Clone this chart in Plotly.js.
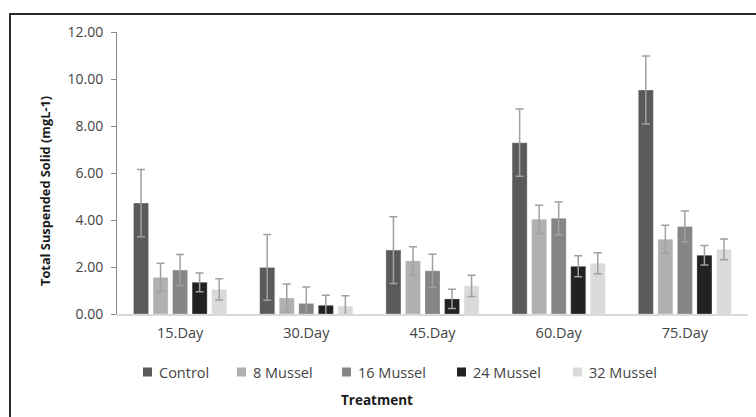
<!DOCTYPE html>
<html>
<head>
<meta charset="utf-8">
<script src="https://cdn.plot.ly/plotly-3.0.1.min.js"></script>
<style>html,body{margin:0;padding:0;background:#fff;}#chart{width:756px;height:417px;}</style>
</head>
<body>
<div id="chart"></div>
<script>
var categories = ["15.Day", "30.Day", "45.Day", "60.Day", "75.Day"];
var seriesNames = ["Control", "8 Mussel", "16 Mussel", "24 Mussel", "32 Mussel"];
var control = [4.72, 1.98, 2.72, 7.29, 9.53];
var controlErr = [1.43, 1.40, 1.42, 1.43, 1.45];
var mussel8 = [1.56, 0.68, 2.26, 4.03, 3.18];
var mussel8Err = [0.60, 0.60, 0.60, 0.60, 0.60];
var mussel16 = [1.87, 0.45, 1.84, 4.07, 3.72];
var mussel16Err = [0.66, 0.70, 0.70, 0.70, 0.66];
var mussel24 = [1.35, 0.37, 0.64, 2.03, 2.50];
var mussel24Err = [0.40, 0.43, 0.41, 0.45, 0.41];
var mussel32 = [1.05, 0.33, 1.20, 2.16, 2.75];
var mussel32Err = [0.45, 0.45, 0.45, 0.45, 0.44];
var yTicks = [0, 2, 4, 6, 8, 10, 12];
var yTickLabels = ["0.00", "2.00", "4.00", "6.00", "8.00", "10.00", "12.00"];

var values = [control, mussel8, mussel16, mussel24, mussel32];
var errors = [controlErr, mussel8Err, mussel16Err, mussel24Err, mussel32Err];
var colors = ["#5a5a5a", "#b0b0b0", "#858585", "#222222", "#dadada"];

var W = 756, H = 417;
var M = { l: 117, r: 8, t: 32, b: 103 };
var plotW = W - M.l - M.r, plotH = H - M.t - M.b;
function px(x) { return (x - M.l) / plotW; }
function py(y) { return (H - M.b - y) / plotH; }

var traces = seriesNames.map(function (name, i) {
  return {
    type: "bar",
    name: name,
    x: categories,
    y: values[i],
    showlegend: false,
    marker: { color: colors[i], line: { color: "rgba(255,255,255,0.35)", width: 0.8 } },
    error_y: { type: "data", array: errors[i], visible: true, color: "#a0a0a0", thickness: 1.5, width: 4 }
  };
});

var font = "'Open Sans', 'Liberation Sans', sans-serif";

// manual legend (Excel style small squares)
var legendX = [143, 237, 342, 457, 573];
var legendY = 372;
var shapes = [{
  type: "rect", xref: "paper", yref: "paper",
  x0: px(10), x1: 1.1, y0: -0.6, y1: py(14),
  line: { color: "#2a2a2a", width: 2 }, fillcolor: "rgba(0,0,0,0)"
}];
var annotations = [];
seriesNames.forEach(function (name, i) {
  shapes.push({
    type: "rect", xref: "paper", yref: "paper",
    x0: px(legendX[i]), x1: px(legendX[i] + 9),
    y0: py(legendY + 4.5), y1: py(legendY - 4.5),
    line: { width: 0 }, fillcolor: colors[i]
  });
  annotations.push({
    xref: "paper", yref: "paper", x: px(legendX[i] + 14), y: py(legendY),
    xanchor: "left", yanchor: "middle", showarrow: false, text: name,
    font: { family: font, size: 14.5, color: "#444444" }
  });
});
annotations.push({
  xref: "paper", yref: "paper", x: px(377), y: py(400),
  xanchor: "center", yanchor: "middle", showarrow: false, text: "<b>Treatment</b>",
  font: { family: font, size: 13.5, color: "#1a1a1a" }
});
annotations.push({
  xref: "paper", yref: "paper", x: px(45), y: py(191),
  xanchor: "center", yanchor: "middle", showarrow: false, textangle: -90,
  text: "<b>Total Suspended Solid (mgL-1)</b>",
  font: { family: font, size: 12.8, color: "#1a1a1a" }
});

var layout = {
  width: W,
  height: H,
  margin: M,
  paper_bgcolor: "#ffffff",
  plot_bgcolor: "#ffffff",
  barmode: "group",
  bargap: 0.226,
  bargroupgap: 0.23,
  font: { family: font, color: "#444444", size: 14 },
  showlegend: false,
  xaxis: {
    type: "category",
    showgrid: false,
    showline: true,
    linecolor: "#d9d9d9",
    linewidth: 1.5,
    ticks: "",
    tickfont: { family: font, size: 14.5, color: "#444444" },
    ticklabelstandoff: 5
  },
  yaxis: {
    range: [0, 12],
    tickvals: yTicks,
    ticktext: yTickLabels,
    showgrid: false,
    zeroline: false,
    showline: true,
    linecolor: "#8c8c8c",
    linewidth: 1,
    ticks: "outside",
    ticklen: 5,
    tickcolor: "#8c8c8c",
    tickfont: { family: font, size: 14, color: "#444444" },
    ticklabelstandoff: 5
  },
  shapes: shapes,
  annotations: annotations
};

Plotly.newPlot("chart", traces, layout, { displayModeBar: false, staticPlot: true });
</script>
</body>
</html>
